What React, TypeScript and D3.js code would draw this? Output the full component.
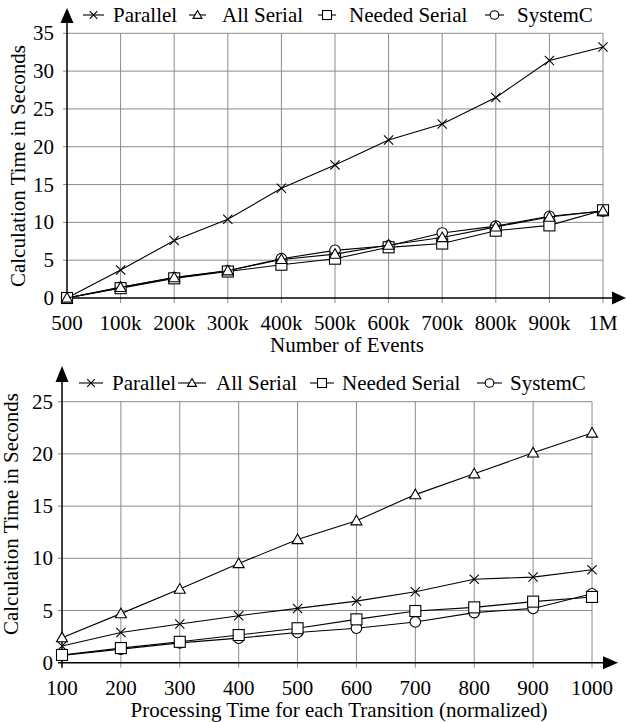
import React from "react";
import * as d3 from "d3";

const seriesNames = ["Parallel", "All Serial", "Needed Serial", "SystemC"];

// Top chart
const eventCategories = ["500", "100k", "200k", "300k", "400k", "500k", "600k", "700k", "800k", "900k", "1M"];
const topParallel = [0, 3.7, 7.6, 10.4, 14.5, 17.6, 20.9, 23.0, 26.5, 31.4, 33.2];
const topAllSerial = [0, 1.4, 2.7, 3.6, 5.1, 5.8, 7.0, 8.0, 9.4, 10.7, 11.5];
const topNeededSerial = [0, 1.3, 2.6, 3.5, 4.4, 5.2, 6.7, 7.2, 8.9, 9.6, 11.6];
const topSystemC = [0, 1.4, 2.7, 3.6, 5.2, 6.3, 6.9, 8.6, 9.5, 10.8, 11.5];
const topYTicks = [0, 5, 10, 15, 20, 25, 30, 35];

// Bottom chart
const procTimes = [100, 200, 300, 400, 500, 600, 700, 800, 900, 1000];
const botParallel = [1.6, 2.9, 3.7, 4.5, 5.2, 5.9, 6.8, 8.0, 8.2, 8.9];
const botAllSerial = [2.4, 4.7, 7.05, 9.5, 11.8, 13.6, 16.1, 18.1, 20.1, 22.0];
const botNeededSerial = [0.74, 1.4, 2.0, 2.65, 3.3, 4.15, 4.95, 5.3, 5.85, 6.3];
const botSystemC = [0.7, 1.3, 1.9, 2.35, 2.9, 3.3, 3.9, 4.8, 5.2, 6.6];
const botYTicks = [0, 5, 10, 15, 20, 25];

const FONT = "'Liberation Serif', 'Times New Roman', serif";
const FS = 21;
const GRID = "#8c8c8c";

type MarkerKind = "x" | "tri" | "sq" | "circ";
const markerKinds: MarkerKind[] = ["x", "tri", "sq", "circ"];

function Marker({ kind, x, y, s }: { kind: MarkerKind; x: number; y: number; s: number }) {
  const common = { stroke: "#000", strokeWidth: 1.1 };
  if (kind === "x") {
    const h = s * 0.42;
    return (
      <path d={`M${x - h},${y - h}L${x + h},${y + h}M${x - h},${y + h}L${x + h},${y - h}`} {...common} fill="none" />
    );
  }
  if (kind === "tri") {
    const h = s * 0.5;
    return (
      <path d={`M${x},${y - h * 1.0}L${x + h},${y + h * 0.75}L${x - h},${y + h * 0.75}Z`} {...common} fill="#fff" />
    );
  }
  if (kind === "sq") {
    const h = s * 0.5;
    return <rect x={x - h} y={y - h} width={2 * h} height={2 * h} {...common} fill="#fff" />;
  }
  return <circle cx={x} cy={y} r={s * 0.48} {...common} fill="#fff" />;
}

function Arrow({ dir, x, y, len, w }: { dir: "up" | "right"; x: number; y: number; len: number; w: number }) {
  if (dir === "up") {
    return <path d={`M${x},${y}L${x + w / 2},${y + len}L${x - w / 2},${y + len}Z`} fill="#000" />;
  }
  return <path d={`M${x},${y}L${x - len},${y - w / 2}L${x - len},${y + w / 2}Z`} fill="#000" />;
}

function Legend({ y, items }: { y: number; items: { lx0: number; lx1: number; tx: number }[] }) {
  return (
    <g>
      {items.map((it, i) => (
        <g key={i}>
          <line x1={it.lx0} x2={it.lx1} y1={y} y2={y} stroke="#000" strokeWidth={1.1} />
          <Marker kind={markerKinds[i]} x={(it.lx0 + it.lx1) / 2} y={y} s={9} />
          <text x={it.tx} y={y + 7} fontFamily={FONT} fontSize={FS}>
            {seriesNames[i]}
          </text>
        </g>
      ))}
    </g>
  );
}

function TopChart() {
  const x = d3.scalePoint<string>().domain(eventCategories).range([67, 603]);
  const y = d3.scaleLinear().domain([0, 35]).range([298, 33.3]);
  const series = [topParallel, topAllSerial, topNeededSerial, topSystemC];
  const drawOrder = [0, 3, 2, 1];
  const line = d3
    .line<number>()
    .x((_, i) => x(eventCategories[i]) as number)
    .y((d) => y(d));
  const x0 = x.range()[0];
  const x1 = x.range()[1];
  return (
    <g>
      {topYTicks.map((t) => (
        <g key={t}>
          <line x1={x0 - 4} x2={x1} y1={y(t)} y2={y(t)} stroke={t === 0 ? "none" : GRID} strokeWidth={1} />
          <text x={54} y={y(t) + 7} textAnchor="end" fontFamily={FONT} fontSize={FS}>
            {t}
          </text>
        </g>
      ))}
      {eventCategories.map((c) => (
        <g key={c}>
          <line x1={x(c)} x2={x(c)} y1={y(35)} y2={y(0) + 5} stroke={c === "500" ? "none" : GRID} strokeWidth={1} />
          <text x={x(c)} y={330} textAnchor="middle" fontFamily={FONT} fontSize={FS}>
            {c}
          </text>
        </g>
      ))}
      <line x1={x0} x2={x0} y1={y(0) + 5} y2={20} stroke="#000" strokeWidth={1.5} />
      <Arrow dir="up" x={x0} y={8} len={15} w={13} />
      <line x1={x0 - 4} x2={614} y1={y(0)} y2={y(0)} stroke="#000" strokeWidth={1.5} />
      <Arrow dir="right" x={626} y={y(0)} len={14} w={13} />
      {drawOrder.map((si) => (
        <g key={si}>
          <path d={line(series[si]) || ""} fill="none" stroke="#000" strokeWidth={1.1} />
          {series[si].map((v, i) => (
            <Marker key={i} kind={markerKinds[si]} x={x(eventCategories[i]) as number} y={y(v)} s={11} />
          ))}
        </g>
      ))}
      <text x={347} y={352} textAnchor="middle" fontFamily={FONT} fontSize={FS}>
        Number of Events
      </text>
      <text transform="translate(25,166) rotate(-90)" textAnchor="middle" fontFamily={FONT} fontSize={FS}>
        Calculation Time in Seconds
      </text>
      <Legend
        y={15}
        items={[
          { lx0: 83, lx1: 104, tx: 113 },
          { lx0: 189, lx1: 206, tx: 222 },
          { lx0: 318, lx1: 336, tx: 349 },
          { lx0: 485, lx1: 504, tx: 517 },
        ]}
      />
    </g>
  );
}

function BottomChart() {
  const x = d3.scaleLinear().domain([100, 1000]).range([62, 592]);
  const y = d3.scaleLinear().domain([0, 25]).range([662.7, 401.7]);
  const series = [botParallel, botAllSerial, botNeededSerial, botSystemC];
  const drawOrder = [0, 1, 3, 2];
  const line = d3
    .line<number>()
    .x((_, i) => x(procTimes[i]))
    .y((d) => y(d));
  const x0 = x.range()[0];
  const x1 = x.range()[1];
  return (
    <g>
      {botYTicks.map((t) => (
        <g key={t}>
          <line x1={x0 - 4} x2={x1} y1={y(t)} y2={y(t)} stroke={t === 0 ? "none" : GRID} strokeWidth={1} />
          <text x={53} y={y(t) + 7} textAnchor="end" fontFamily={FONT} fontSize={FS}>
            {t}
          </text>
        </g>
      ))}
      {procTimes.map((c) => (
        <g key={c}>
          <line x1={x(c)} x2={x(c)} y1={y(25)} y2={y(0) + 5} stroke={c === 100 ? "none" : GRID} strokeWidth={1} />
          <text x={x(c)} y={695} textAnchor="middle" fontFamily={FONT} fontSize={FS}>
            {c}
          </text>
        </g>
      ))}
      <line x1={x0} x2={x0} y1={y(0) + 5} y2={378} stroke="#000" strokeWidth={1.5} />
      <Arrow dir="up" x={x0} y={366} len={16} w={13} />
      <line x1={x0 - 4} x2={606} y1={y(0)} y2={y(0)} stroke="#000" strokeWidth={1.5} />
      <Arrow dir="right" x={618} y={y(0)} len={15} w={13} />
      {drawOrder.map((si) => (
        <g key={si}>
          <path d={line(series[si]) || ""} fill="none" stroke="#000" strokeWidth={1.1} />
          {series[si].map((v, i) => (
            <Marker key={i} kind={markerKinds[si]} x={x(procTimes[i])} y={y(v)} s={11} />
          ))}
        </g>
      ))}
      <text x={339} y={717} textAnchor="middle" fontFamily={FONT} fontSize={FS}>
        Processing Time for each Transition (normalized)
      </text>
      <text transform="translate(18,514) rotate(-90)" textAnchor="middle" fontFamily={FONT} fontSize={FS}>
        Calculation Time in Seconds
      </text>
      <Legend
        y={383}
        items={[
          { lx0: 79, lx1: 103, tx: 112 },
          { lx0: 178, lx1: 206, tx: 216 },
          { lx0: 310, lx1: 334, tx: 342 },
          { lx0: 477, lx1: 502, tx: 510 },
        ]}
      />
    </g>
  );
}

export default function App() {
  return (
    <svg
      width={626}
      height={722}
      viewBox="0 0 626 722"
      style={{ position: "absolute", left: 0, top: 0, background: "#fff" }}
    >
      <rect width={626} height={722} fill="#fff" />
      <TopChart />
      <BottomChart />
    </svg>
  );
}
